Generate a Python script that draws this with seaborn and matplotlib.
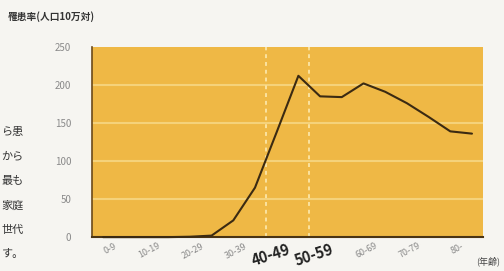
import numpy as np
import pandas as pd
import seaborn as sns
import matplotlib.pyplot as plt

# 5-year age groups and incidence per 100,000
age_groups = ['0-4', '5-9', '10-14', '15-19', '20-24', '25-29', '30-34', '35-39', '40-44',
              '45-49', '50-54', '55-59', '60-64', '65-69', '70-74', '75-79', '80-84', '85-']
rates = [0, 0, 0, 0, 0.5, 2, 22, 65, 138, 212, 185, 184, 202, 191, 176, 158, 139, 136]

decade_labels = ['0-9', '10-19', '20-29', '30-39', '40-49', '50-59', '60-69', '70-79', '80-']
highlight = ['40-49', '50-59']
y_ticks = [0, 50, 100, 150, 200, 250]

side_text = ['ら患', 'から', '最も', '家庭', '世代', 'す。']

df = pd.DataFrame({'group': age_groups, 'rate': rates})
df['pos'] = np.arange(len(df))

sns.set_style('white')
plt.rcParams['font.family'] = ['Noto Sans CJK JP', 'DejaVu Sans']

fig = plt.figure(figsize=(5.04, 2.71), dpi=100)
fig.patch.set_facecolor('#f6f5f1')
ax = fig.add_axes([0.183, 0.125, 0.775, 0.702])
ax.set_facecolor('#efb845')

# grid lines
for v in y_ticks[1:-1]:
    ax.axhline(v, color='#f5d27a', lw=1.5, zorder=1)
# dashed markers around the 40-59 band
for b in [7.5, 9.5]:
    ax.axvline(b, color='#fbe3a0', lw=1.4, ls=(0, (2, 2)), zorder=1)

sns.lineplot(data=df, x='pos', y='rate', color='#3b2a12', lw=1.5, ax=ax, zorder=3, clip_on=False)

ax.set_xlim(-0.5, len(age_groups) - 0.5)
ax.set_ylim(0, 250)
ax.set_yticks(y_ticks)
ax.set_yticklabels([str(v) for v in y_ticks], color='#8a8a8a', fontsize=7)
ax.tick_params(axis='y', length=0, pad=15)

# tick marks at decade boundaries, labels at decade centres
bounds = np.arange(1.5, len(age_groups) - 1, 2)
centres = np.arange(0.5, len(age_groups), 2)
ax.set_xticks(bounds, minor=True)
ax.tick_params(axis='x', which='minor', length=3, color='#555555', width=0.8)
ax.set_xticks(centres)
ax.set_xticklabels(decade_labels)
ax.tick_params(axis='x', which='major', length=0, pad=3)
for lab in ax.get_xticklabels():
    lab.set_rotation(28)
    lab.set_ha('right')
    lab.set_rotation_mode('anchor')
    if lab.get_text() in highlight:
        lab.set_fontsize(10.5)
        lab.set_fontweight('bold')
        lab.set_color('#222222')
        lab.set_rotation(18)
    else:
        lab.set_fontsize(6.5)
        lab.set_color('#8a8a8a')
ax.set_xlabel('')
ax.set_ylabel('')

for side in ['top', 'right']:
    ax.spines[side].set_visible(False)
ax.spines['left'].set_color('#6b4a1a')
ax.spines['left'].set_linewidth(1.2)
ax.spines['bottom'].set_color('#4a3414')
ax.spines['bottom'].set_linewidth(1.5)

fig.text(0.015, 0.94, '罹患率(人口10万対)', fontsize=7, fontweight='bold', color='#333333',
         va='center', ha='left')
fig.text(0.945, 0.035, '(年齢)', fontsize=6.5, color='#444444', va='center', ha='left')

for i, t in enumerate(side_text):
    fig.text(0.003, 1 - (132 + i * 24.5) / 271, t, fontsize=8,
             color='#333333', va='center', ha='left')

fig.savefig('out.png', dpi=100, facecolor=fig.get_facecolor())
